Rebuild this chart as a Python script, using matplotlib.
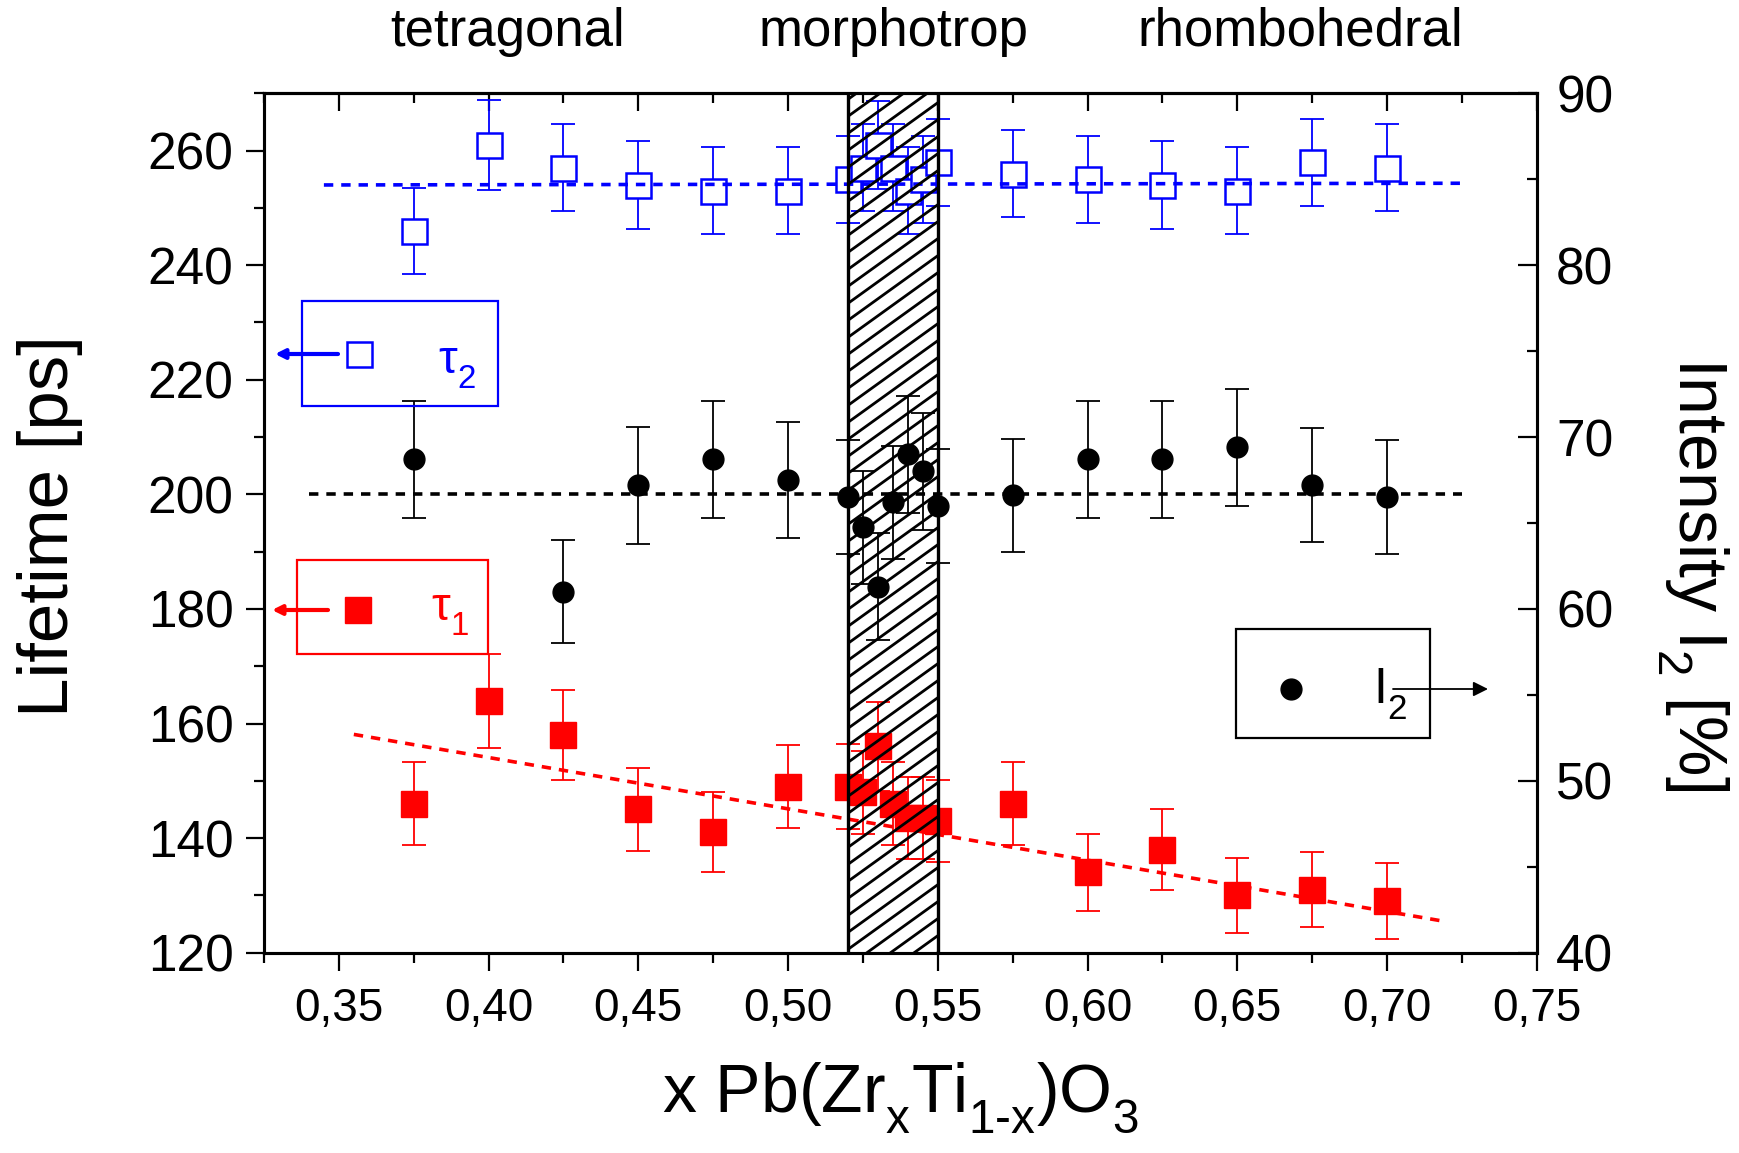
import numpy as np
import matplotlib
matplotlib.use('Agg')
import matplotlib.pyplot as plt
from matplotlib.collections import LineCollection
from matplotlib.patches import Rectangle, FancyArrowPatch
from matplotlib.lines import Line2D
from matplotlib.ticker import FixedLocator, MultipleLocator

plt.rcParams['font.family'] = ['Liberation Sans', 'DejaVu Sans']
plt.rcParams['mathtext.fontset'] = 'custom'
plt.rcParams['mathtext.rm'] = 'Liberation Sans'
plt.rcParams['mathtext.it'] = 'Liberation Sans:italic'
plt.rcParams['mathtext.default'] = 'rm'
try:
    import matplotlib._mathtext as _mt
    _mt.FontConstantsBase.subdrop = 0.9
    _mt.FontConstantsBase.sub1 = 0.6
except Exception:
    pass

# ---------------- data ----------------
x_tau = [0.375, 0.40, 0.425, 0.45, 0.475, 0.50, 0.52, 0.525, 0.53, 0.535, 0.54,
         0.545, 0.55, 0.575, 0.60, 0.625, 0.65, 0.675, 0.70]
tau1 = [146, 164, 158, 145, 141, 149, 149, 148, 156, 146, 143.5,
        143.5, 143, 146, 134, 138, 130, 131, 129]
tau1_err = [7.2, 8.2, 7.8, 7.2, 7.0, 7.2, 7.4, 7.2, 7.8, 7.2, 7.2,
            7.2, 7.2, 7.2, 6.8, 7.0, 6.6, 6.6, 6.6]
tau2 = [246, 261, 257, 254, 253, 253, 255, 257, 261, 257, 253,
        255, 258, 256, 255, 254, 253, 258, 257]
tau2_err = [7.5, 7.8, 7.6, 7.6, 7.6, 7.6, 7.6, 7.6, 7.7, 7.6, 7.6,
            7.6, 7.6, 7.6, 7.6, 7.6, 7.6, 7.6, 7.6]

x_I2 = [0.375, 0.425, 0.45, 0.475, 0.50, 0.52, 0.525, 0.53, 0.535, 0.54,
        0.545, 0.55, 0.575, 0.60, 0.625, 0.65, 0.675, 0.70]
I2 = [68.7, 61.0, 67.2, 68.7, 67.5, 66.5, 64.75, 61.3, 66.2, 69.0,
      68.0, 66.0, 66.6, 68.7, 68.7, 69.4, 67.2, 66.5]
I2_err = [3.4, 3.0, 3.4, 3.4, 3.4, 3.3, 3.3, 3.1, 3.3, 3.4,
          3.4, 3.3, 3.3, 3.4, 3.4, 3.4, 3.3, 3.3]

fit_tau1_x = [0.355, 0.72]
fit_tau1_y = [158.1, 125.4]
fit_tau2_x = [0.345, 0.725]
fit_tau2_y = [254.0, 254.3]
fit_I2_x = [0.34, 0.725]
fit_I2_y = [66.67, 66.67]

morph_region = [0.52, 0.55]

x_major = [0.35, 0.40, 0.45, 0.50, 0.55, 0.60, 0.65, 0.70, 0.75]
x_labels = ['0,35', '0,40', '0,45', '0,50', '0,55', '0,60', '0,65', '0,70', '0,75']
y_left_major = [120, 140, 160, 180, 200, 220, 240, 260]
y_right_major = [40, 50, 60, 70, 80, 90]
phase_labels = ['tetragonal', 'morphotrop', 'rhombohedral']

# ---------------- figure ----------------
W, H = 1739, 1153
fig = plt.figure(figsize=(W / 100, H / 100), dpi=100)
L, R, T, B = 264, 1536.7, 93.3, 952.7
ax = fig.add_axes([L / W, 1 - B / H, (R - L) / W, (B - T) / H])
ax2 = ax.twinx()

def fp(px, py):
    return (px / W, 1 - py / H)

blue = '#0000ff'
red = '#ff0000'

# tau2 (open blue squares)
ax.errorbar(x_tau, tau2, yerr=tau2_err, fmt='none', ecolor=blue, elinewidth=1.3,
            capsize=8.5, capthick=1.3, zorder=2)
ax.plot(x_tau, tau2, 's', ms=18, mfc='white', mec=blue, mew=1.8, zorder=3, ls='none')
ax.plot(fit_tau2_x, fit_tau2_y, color=blue, lw=2.6, ls=(0, (2.6, 2.2)), zorder=4)

# tau1 (filled red squares)
ax.errorbar(x_tau, tau1, yerr=tau1_err, fmt='none', ecolor=red, elinewidth=1.3,
            capsize=8.5, capthick=1.3, zorder=2)
ax.plot(x_tau, tau1, 's', ms=18.5, mfc=red, mec=red, zorder=3, ls='none')
ax.plot(fit_tau1_x, fit_tau1_y, color=red, lw=2.6, ls=(0, (2.6, 2.2)), zorder=4)

# I2 (black circles, right axis)
ax2.errorbar(x_I2, I2, yerr=I2_err, fmt='none', ecolor='black', elinewidth=1.3,
             capsize=8.5, capthick=1.3, zorder=2)
ax2.plot(x_I2, I2, 'o', ms=15, mfc='black', mec='black', zorder=3, ls='none')
ax2.plot(fit_I2_x, fit_I2_y, color='black', lw=2.6, ls=(0, (2.6, 2.2)), zorder=4)

# limits
ax.set_xlim(0.325, 0.75)
ax.set_ylim(120, 270)
ax2.set_ylim(40, 90)

# hatched morphotropic region (drawn on top), lines rising to the right
px_per_x = (R - L) / (0.75 - 0.325)
px_per_y2 = (B - T) / (90 - 40)
slope = 0.72 * px_per_x / px_per_y2
step = 17 / px_per_y2
dy = (morph_region[1] - morph_region[0]) * slope
segs = []
y0 = 40 - dy - step
while y0 < 92:
    segs.append([(morph_region[0], y0), (morph_region[1], y0 + dy)])
    y0 += step
ax2.add_collection(LineCollection(segs, colors='black', linewidths=2.0, zorder=6))
for xv in morph_region:
    ax2.axvline(xv, color='black', lw=2.4, zorder=7)

# ticks
ax.xaxis.set_major_locator(FixedLocator(x_major))
ax.set_xticklabels(x_labels)
ax.xaxis.set_minor_locator(MultipleLocator(0.025))
ax.yaxis.set_major_locator(FixedLocator(y_left_major))
ax.yaxis.set_minor_locator(MultipleLocator(10))
ax.tick_params(axis='both', which='major', direction='out', length=13, width=1.6, pad=10)
ax.tick_params(axis='x', which='major', labelsize=33, pad=12)
ax.tick_params(axis='y', which='major', labelsize=37, pad=9)
ax.tick_params(axis='both', which='minor', direction='out', length=7, width=1.6)
ax.tick_params(axis='x', top=False)
ax.tick_params(axis='y', right=False)

ax2.yaxis.set_major_locator(FixedLocator(y_right_major))
ax2.yaxis.set_minor_locator(MultipleLocator(5))
ax2.tick_params(axis='y', which='major', direction='in', length=14, width=1.6,
                labelsize=37, pad=14)
ax2.tick_params(axis='y', which='minor', direction='in', length=7, width=1.6)

sec = ax.secondary_xaxis('top')
sec.xaxis.set_major_locator(FixedLocator(x_major))
sec.xaxis.set_minor_locator(MultipleLocator(0.025))
sec.tick_params(axis='x', which='major', direction='in', length=13, width=1.6,
                labeltop=False)
sec.tick_params(axis='x', which='minor', direction='in', length=7, width=1.6)

for a in (ax, ax2):
    for s in a.spines.values():
        s.set_linewidth(2.2)
sec.spines['top'].set_linewidth(2.2)

# axis labels
fig.text(*fp(50, 526), 'Lifetime [ps]', rotation=90, ha='center', va='center', fontsize=51)
fig.text(*fp(1693, 574), 'Intensity I$_2$ [%]', rotation=-90, ha='center', va='center',
         fontsize=49)
fig.text(*fp(900, 1098), 'x Pb(Zr$_{x}$Ti$_{1\u2010x}$)O$_{3}$', ha='center', va='center',
         fontsize=49)

# phase labels on top
for lab, px in zip(phase_labels, [508, 894, 1300]):
    fig.text(*fp(px, 32), lab, ha='center', va='center', fontsize=38)

# legend boxes
def box(x0, y0, x1, y1, color):
    fig.add_artist(Rectangle(fp(x0, y1), (x1 - x0) / W, (y1 - y0) / H, fill=False,
                             edgecolor=color, lw=1.6, transform=fig.transFigure))

def arrow(xa, ya, xb, yb, color, lw, ms):
    fig.add_artist(FancyArrowPatch(fp(xa, ya), fp(xb, yb), arrowstyle='-|>',
                                   mutation_scale=ms, color=color, lw=lw,
                                   transform=fig.transFigure, shrinkA=0, shrinkB=0))

# tau2 box
box(301.6, 300.5, 497.9, 405.9, blue)
arrow(338, 354, 275, 354, blue, 3.0, 14)
fig.add_artist(Line2D([fp(359, 354)[0]], [fp(359, 354)[1]], marker='s', ms=18,
                      mfc='white', mec=blue, mew=1.8, transform=fig.transFigure))
fig.text(*fp(457, 368), r'$\tau_{2}$', color=blue, ha='center', va='center', fontsize=34)

# tau1 box
box(297, 560, 488, 654, red)
arrow(328, 610, 272, 610, red, 3.0, 14)
fig.add_artist(Line2D([fp(358, 610)[0]], [fp(358, 610)[1]], marker='s', ms=18.5,
                      mfc=red, mec=red, transform=fig.transFigure))
fig.text(*fp(450, 615), r'$\tau_{1}$', color=red, ha='center', va='center', fontsize=34)

# I2 box
box(1236, 629, 1430, 738, 'black')
fig.add_artist(Line2D([fp(1291, 689)[0]], [fp(1291, 689)[1]], marker='o', ms=15,
                      mfc='black', mec='black', transform=fig.transFigure))
fig.text(*fp(1390, 694), 'I$_2$', color='black', ha='center', va='center', fontsize=36)
arrow(1393, 689, 1488, 689, 'black', 1.3, 22)

fig.savefig('out.png', dpi=100)
